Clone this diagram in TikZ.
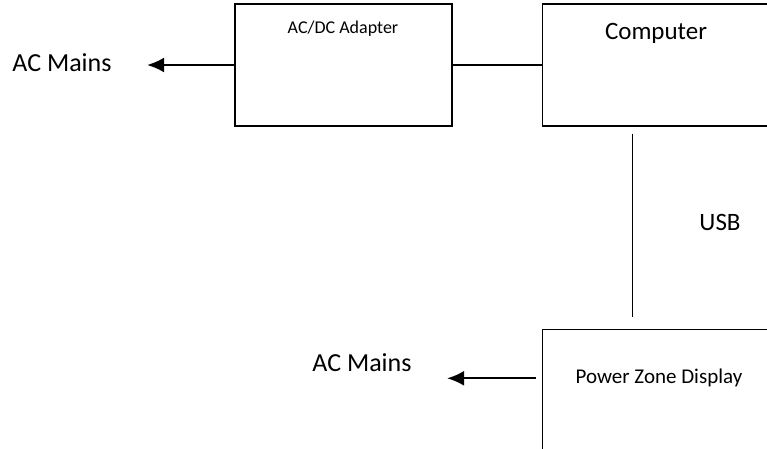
\documentclass[tikz,border=0pt]{standalone}
\usepackage{fontspec}
\setmainfont{Carlito}
\usetikzlibrary{arrows.meta,positioning}
\tikzset{
  block/.style={draw=black,line width=1.3pt,minimum height=122pt,inner sep=0pt},
  mains/.style={font=\fontsize{26}{30}\selectfont},
  bigtext/.style={font=\fontsize{25}{30}\selectfont},
  smalltext/.style={font=\fontsize{18}{22}\selectfont},
  midtext/.style={font=\fontsize{21}{25}\selectfont},
  wire/.style={line width=1.3pt},
  arrow/.style={-{Latex[length=17pt,width=15pt]},line width=2.2pt,shorten >=32pt}
}
\begin{document}
\begin{tikzpicture}[x=1pt,y=-1pt,node distance=89pt]
      \useasboundingbox (0,0) rectangle (767,448);
      \clip (0,0) rectangle (767,448);
      \node[block,minimum width=217pt] (adapter) at (343.5,65) {};
      \node[block,minimum width=234pt,right=of adapter] (computer) {};
      \node[block,minimum width=234pt,below=202pt of computer] (display) {};
      % box texts
      \node[smalltext] (adapterTxt) at (343,29) {AC/DC Adapter};
      \node[bigtext] (computerTxt) at (656,33) {Computer};
      \node[midtext] (displayTxt) at (659,378) {Power Zone Display};
      \node[bigtext] (usb) at (720,222) {USB};
      \node[mains] (mainsA) at (62,63) {AC Mains};
      \node[mains] (mainsB) at (362,363) {AC Mains};
      % connectors
      \draw[wire] (adapter.east) -- (computer.west);
      \draw[wire] ([xshift=-27pt,yshift=-7pt]computer.south) -- ([xshift=-27pt,yshift=12pt]display.north);
      \draw[arrow] (adapter.west) -- (adapter.west -| mainsA.east);
      \coordinate (tapB) at ([yshift=12pt]display.west);
      \draw[arrow,shorten <=6pt] (tapB) -- (tapB -| mainsB.east);
    \end{tikzpicture}
\end{document}
